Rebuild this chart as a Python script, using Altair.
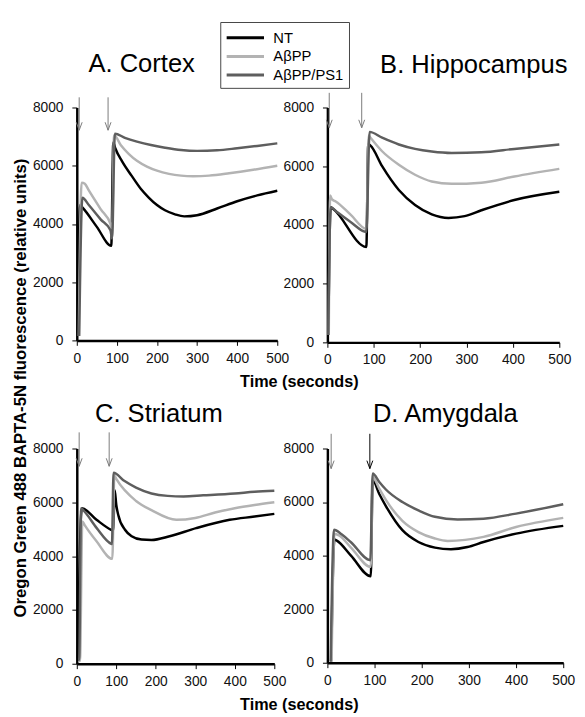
import altair as alt
import pandas as pd

FONT = "Liberation Sans"

SERIES = ["NT", "AβPP", "AβPP/PS1"]
SERIES_COLORS = ["#000000", "#b3b3b3", "#5e5e5e"]

X_TICKS = [0, 100, 200, 300, 400, 500]
Y_TICKS = [0, 2000, 4000, 6000, 8000]

PANEL_KEYS = ["A", "B", "C", "D"]
PANEL_TITLES = ["A. Cortex", "B. Hippocampus", "C. Striatum", "D. Amygdala"]

# ---------------- A. Cortex ----------------
cortex_nt_t = [3, 8, 15, 50, 86, 91, 96, 113, 137, 160, 180, 200, 220, 245, 268, 300, 350, 400, 450, 500]
cortex_nt_v = [250, 4650, 4550, 3900, 3250, 6800, 6600, 6150, 5650, 5200, 4900, 4650, 4470, 4330, 4260, 4300, 4530, 4780, 4980, 5140]
cortex_app_t = [5, 12, 20, 30, 60, 84, 88, 93, 110, 130, 150, 175, 200, 230, 260, 290, 330, 380, 440, 500]
cortex_app_v = [150, 5420, 5380, 5150, 4500, 4000, 3560, 7050, 6700, 6400, 6170, 5970, 5830, 5720, 5660, 5640, 5660, 5740, 5860, 6000]
cortex_ps1_t = [6, 14, 30, 60, 84, 88, 95, 120, 150, 185, 220, 260, 300, 350, 400, 450, 500]
cortex_ps1_v = [150, 4900, 4650, 4150, 3780, 3500, 7100, 6960, 6830, 6710, 6620, 6540, 6510, 6530, 6600, 6680, 6770]

# ---------------- B. Hippocampus ----------------
hippo_nt_t = [2, 7, 12, 84, 88, 93, 118, 154, 189, 225, 261, 296, 332, 403, 500]
hippo_nt_v = [250, 4600, 4550, 3250, 6750, 6700, 6000, 5190, 4680, 4360, 4240, 4300, 4500, 4850, 5130]
hippo_app_t = [3, 6, 10, 18, 50, 84, 89, 93, 118, 154, 189, 225, 268, 332, 403, 500]
hippo_app_v = [250, 5000, 4870, 4800, 4350, 3870, 7050, 6970, 6510, 6050, 5710, 5480, 5400, 5440, 5650, 5910]
hippo_ps1_t = [2, 7, 20, 50, 84, 91, 118, 154, 189, 225, 268, 332, 403, 500]
hippo_ps1_v = [250, 4600, 4450, 4100, 3760, 7170, 6970, 6740, 6590, 6500, 6450, 6475, 6590, 6740]

# ---------------- C. Striatum ----------------
stri_nt_t = [3, 10, 13, 50, 87, 92, 96, 100, 105, 122, 139, 164, 189, 235, 302, 387, 450, 500]
stri_nt_v = [200, 5300, 5780, 5350, 4980, 4950, 6450, 5900, 5530, 4980, 4740, 4615, 4600, 4740, 5040, 5350, 5470, 5570]
stri_app_t = [4, 8, 14, 20, 50, 90, 95, 100, 150, 189, 252, 300, 350, 400, 450, 500]
stri_app_v = [100, 100, 5290, 5150, 4550, 3900, 7000, 6870, 6050, 5710, 5350, 5420, 5620, 5780, 5900, 6000]
stri_ps1_t = [3, 6, 11, 20, 50, 87, 89, 93, 120, 150, 189, 230, 270, 320, 400, 450, 500]
stri_ps1_v = [150, 150, 5780, 5650, 5050, 4460, 4450, 7100, 6800, 6550, 6330, 6240, 6220, 6260, 6330, 6390, 6430]

# ---------------- D. Amygdala ----------------
amyg_nt_t = [8, 15, 20, 50, 92, 96, 110, 124, 159, 193, 228, 262, 297, 331, 400, 500]
amyg_nt_v = [50, 4600, 4560, 4000, 3230, 6820, 6300, 5850, 4950, 4510, 4300, 4240, 4320, 4510, 4820, 5110]
amyg_app_t = [9, 15, 25, 50, 92, 96, 110, 124, 159, 193, 228, 255, 331, 400, 500]
amyg_app_v = [50, 4820, 4750, 4300, 3580, 6940, 6500, 6080, 5300, 4880, 4640, 4550, 4700, 5070, 5410]
amyg_ps1_t = [7, 14, 30, 50, 91, 96, 110, 124, 159, 193, 228, 276, 331, 400, 500]
amyg_ps1_v = [50, 4970, 4800, 4500, 3830, 7070, 6750, 6470, 6000, 5690, 5450, 5350, 5380, 5570, 5920]

# ---------------- stimulus arrows ----------------
arrow_panel = ["A", "A", "B", "B", "C", "C", "D", "D"]
arrow_t = [6, 78, 4, 74, 6, 82, 8, 90]
arrow_from = [8350, 8350, 8500, 8500, 8600, 8600, 8550, 8550]
arrow_to = [7220, 7220, 7310, 7310, 7340, 7340, 7250, 7250]
arrow_shade = ["grey", "grey", "grey", "grey", "grey", "grey", "grey", "black"]

series_data = {
    "A": [(cortex_nt_t, cortex_nt_v), (cortex_app_t, cortex_app_v), (cortex_ps1_t, cortex_ps1_v)],
    "B": [(hippo_nt_t, hippo_nt_v), (hippo_app_t, hippo_app_v), (hippo_ps1_t, hippo_ps1_v)],
    "C": [(stri_nt_t, stri_nt_v), (stri_app_t, stri_app_v), (stri_ps1_t, stri_ps1_v)],
    "D": [(amyg_nt_t, amyg_nt_v), (amyg_app_t, amyg_app_v), (amyg_ps1_t, amyg_ps1_v)],
}

rows = []
for key in PANEL_KEYS:
    for name, (ts, vs) in zip(SERIES, series_data[key]):
        for t, v in zip(ts, vs):
            rows.append({"panel": key, "series": name, "t": t, "v": v})
lines_df = pd.DataFrame(rows)

arrows_df = pd.DataFrame({
    "panel": arrow_panel, "t": arrow_t, "top": arrow_from, "tip": arrow_to, "shade": arrow_shade,
})

# layout (plot-area sizes, title placement)
LAYOUT = {
    "A": dict(w=204, h=237, dx=-36, offset=20),
    "B": dict(w=236, h=239, dx=31, offset=15),
    "C": dict(w=201, h=219, dx=-17, offset=5),
    "D": dict(w=240, h=218, dx=0, offset=6),
}

legend = alt.Legend(
    title=None, orient="none", legendX=146, legendY=-87, direction="vertical",
    symbolType="M-1,0H3", symbolSize=361, symbolStrokeWidth=3,
    labelFont=FONT, labelFontSize=15, labelColor="#000", labelOffset=27, labelLimit=300,
    rowPadding=0, padding=5, strokeColor="#444", fillColor="#ffffff",
)


def x_axis(with_title):
    kw = dict(values=X_TICKS, grid=False, domainColor="#000", domainWidth=2.5,
              tickColor="#000", tickSize=5, tickWidth=1, labelFont=FONT, labelFontSize=14,
              labelColor="#111", labelPadding=6, labelOverlap=False, labelFlush=False)
    if with_title:
        kw.update(title="Time (seconds)", titleFont=FONT, titleFontSize=16.5,
                  titleFontWeight="bold", titleColor="#000", titleX=226, titleY=34)
    else:
        kw["title"] = None
    return alt.Axis(**kw)


def y_axis(with_title):
    kw = dict(values=Y_TICKS, grid=False, domainColor="#000", domainWidth=2.5,
              tickColor="#000", tickSize=5, tickWidth=1, labelFont=FONT, labelFontSize=14,
              labelColor="#111", labelPadding=9, labelOverlap=False, format="d")
    if with_title:
        kw.update(title="Oregon Green 488 BAPTA-5N fluorescence (relative units)",
                  titleFont=FONT, titleFontSize=17, titleFontWeight="bold", titleColor="#000",
                  titleX=-48, titleY=285)
    else:
        kw["title"] = None
    return alt.Axis(**kw)


XS = alt.Scale(domain=[0, 500], nice=False, zero=False)
YS = alt.Scale(domain=[0, 8000], nice=False)
shade_scale = alt.Scale(domain=["grey", "black"], range=["#7a7a7a", "#000000"])


def panel(i):
    key = PANEL_KEYS[i]
    lay = LAYOUT[key]
    x_title = key in ("A", "C")
    y_title = key == "A"
    xa = x_axis(x_title)
    ya = y_axis(y_title)

    lines = alt.Chart(lines_df[lines_df.panel == key]).mark_line(
        strokeWidth=2.5, interpolate="monotone"
    ).encode(
        x=alt.X("t:Q", scale=XS, axis=xa),
        y=alt.Y("v:Q", scale=YS, axis=ya),
        color=alt.Color("series:N", scale=alt.Scale(domain=SERIES, range=SERIES_COLORS),
                        sort=SERIES, legend=legend),
    )
    adata = arrows_df[arrows_df.panel == key]
    rules = alt.Chart(adata).mark_rule(strokeWidth=1).encode(
        x=alt.X("t:Q", scale=XS, axis=xa),
        y=alt.Y("top:Q", scale=YS, axis=ya),
        y2="tip:Q",
        stroke=alt.Stroke("shade:N", scale=shade_scale, legend=None),
    )
    heads = alt.Chart(adata).mark_point(
        shape="M-1,-2.7L0,0L1,-2.7", filled=False, size=36, strokeWidth=1, opacity=1
    ).encode(
        x=alt.X("t:Q", scale=XS, axis=xa),
        y=alt.Y("tip:Q", scale=YS, axis=ya),
        stroke=alt.Stroke("shade:N", scale=shade_scale, legend=None),
    )
    return alt.layer(lines, rules, heads).properties(
        width=lay["w"], height=lay["h"],
        title=alt.TitleParams(text=PANEL_TITLES[i], font=FONT, fontSize=26, fontWeight="normal",
                              color="#000", anchor="middle", frame="group",
                              dx=lay["dx"], offset=lay["offset"]),
    )


chart = alt.concat(
    panel(0), panel(1), panel(2), panel(3),
    columns=2, spacing={"row": 108, "column": 51}, bounds="flush", align="each",
).resolve_scale(x="independent", y="independent").properties(
    padding={"left": 4, "top": 7, "right": 2, "bottom": 0},
    background="#ffffff",
).configure_view(stroke=None)

chart.save("out.html", embed_options={"renderer": "svg", "actions": False})
